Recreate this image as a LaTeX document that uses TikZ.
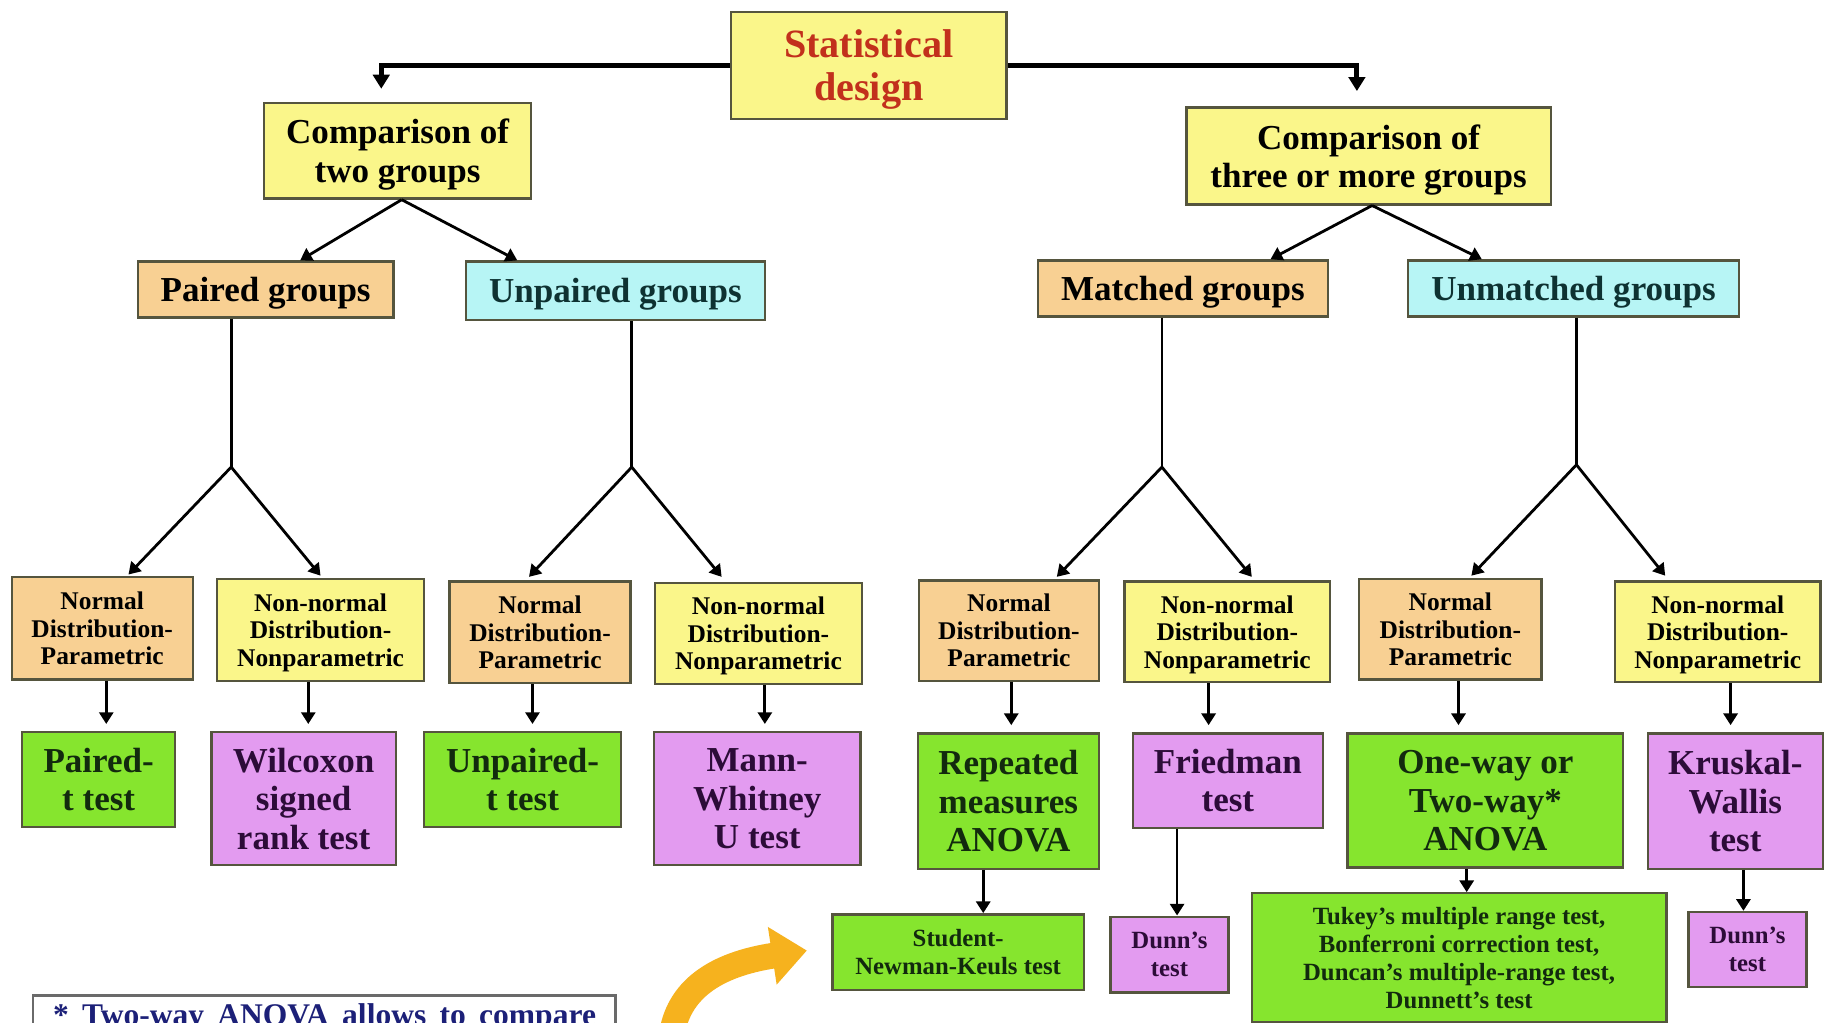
\documentclass[tikz,border=0pt]{standalone}
\usepackage{fontspec}
\setmainfont{Liberation Serif}
\usetikzlibrary{arrows.meta,calc}

\definecolor{fillYel}{HTML}{FAF68A}
\definecolor{fillTan}{HTML}{F8D093}
\definecolor{fillCyan}{HTML}{B7F5F5}
\definecolor{fillGreen}{HTML}{86E52E}
\definecolor{fillPurple}{HTML}{E39BF0}
\definecolor{edgeCol}{HTML}{55553E}
\definecolor{titleRed}{HTML}{C2301C}
\definecolor{txtGreen}{HTML}{122A0E}
\definecolor{txtPurple}{HTML}{2C0C38}
\definecolor{txtTeal}{HTML}{0E3232}
\definecolor{noteBlue}{HTML}{1C2078}
\definecolor{noteEdge}{HTML}{6A6A6A}
\definecolor{gold}{HTML}{F6B21E}

\tikzset{
  box/.style={draw=edgeCol, line width=1pt, align=center, inner sep=0pt, text depth=0pt},
  sz/.style n args={2}{minimum width=#1*0.5pt, minimum height=#2*0.5pt},
  fTitle/.style={font=\bfseries\fontsize{17.2pt}{18.5pt}\selectfont},
  fBig/.style={font=\bfseries\fontsize{15pt}{16.4pt}\selectfont},
  fSmall/.style={font=\bfseries\fontsize{10.9pt}{11.75pt}\selectfont},
  fTiny/.style={font=\bfseries\fontsize{10.6pt}{12pt}\selectfont},
  yelbox/.style={box, fill=fillYel},
  tanbox/.style={box, fill=fillTan},
  cyanbox/.style={box, fill=fillCyan, text=txtTeal},
  greenbox/.style={box, fill=fillGreen, text=txtGreen},
  purplebox/.style={box, fill=fillPurple, text=txtPurple},
  normbox/.style={tanbox, fSmall},
  nonnormbox/.style={yelbox, fSmall},
  arr/.style={draw=black, line width=1.2pt, -{Triangle[width=6pt,length=5pt]}},
  link/.style={draw=black, line width=1.2pt},
  rootarr/.style={draw=black, line width=2.2pt, -{Triangle[width=7pt,length=6pt]}}
}

\begin{document}
\begin{tikzpicture}[x=0.5pt,y=-0.5pt]
\useasboundingbox (0,0) rectangle (1568,876);
\clip (0,0) rectangle (1568,876);
\fill[white] (0,0) rectangle (1568,876);

% ---- top level ----
\node[yelbox, fTitle, text=titleRed, sz={236}{92}] (root) at (744,56) {Statistical\\design};
\node[yelbox, fBig, sz={229}{82}] (c2) at (340.5,129) {Comparison of\\two groups};
\node[yelbox, fBig, sz={312}{83}] (c3) at (1172,133.5) {Comparison of\\three or more groups};

\draw[rootarr] (root.west) -| ($(c2.north)+(-14,-11)$);
\draw[rootarr] (root.east) -| ($(c3.north)+(-10,-13)$);

% ---- group type ----
\node[tanbox, fBig, sz={219}{48}] (pg) at (227.5,248) {Paired groups};
\node[cyanbox, fBig, sz={256}{50}] (ug) at (527,249) {Unpaired groups};
\node[tanbox, fBig, sz={248}{48}] (mg) at (1013,247) {Matched groups};
\node[cyanbox, fBig, sz={283}{48}] (umg) at (1347.5,247) {Unmatched groups};

\draw[arr] ($(c2.south)+(3.5,0)$) -- ($(pg.north)+(29.5,0)$);
\draw[arr] ($(c2.south)+(3.5,0)$) -- ($(ug.north)+(-84,0)$);
\draw[arr] ($(c3.south)+(3,0)$) -- ($(mg.north)+(75,0)$);
\draw[arr] ($(c3.south)+(3,0)$) -- ($(umg.north)+(-78.5,0)$);

% ---- distribution ----
\node[normbox, sz={155}{88}] (n1) at (87.5,538) {Normal\\Distribution-\\Parametric};
\node[nonnormbox, sz={177}{87}] (n2) at (274.5,539.5) {Non-normal\\Distribution-\\Nonparametric};
\node[normbox, sz={155}{87}] (n3) at (462.5,541.5) {Normal\\Distribution-\\Parametric};
\node[nonnormbox, sz={177}{87}] (n4) at (649.5,542.5) {Non-normal\\Distribution-\\Nonparametric};
\node[normbox, sz={154}{86}] (n5) at (864,540) {Normal\\Distribution-\\Parametric};
\node[nonnormbox, sz={176}{86}] (n6) at (1051,541) {Non-normal\\Distribution-\\Nonparametric};
\node[normbox, sz={156}{86}] (n7) at (1242,539) {Normal\\Distribution-\\Parametric};
\node[nonnormbox, sz={176}{86}] (n8) at (1471,541) {Non-normal\\Distribution-\\Nonparametric};

% forks below each group box
\coordinate (fpg) at (198,400);
\coordinate (fug) at (541,400);
\coordinate (fmg) at (995,400);
\coordinate (fumg) at (1350,398);
\draw[link] (fpg |- pg.south) -- (fpg);
\draw[link] (fug |- ug.south) -- (fug);
\draw[link] (fmg |- mg.south) -- (fmg);
\draw[link] (fumg |- umg.south) -- (fumg);
\draw[arr] (fpg) -- ($(n1.north)+(22.5,-1)$);
\draw[arr] (fpg) -- ($(n2.north)+(0,-2)$);
\draw[arr] (fug) -- ($(n3.north)+(-9.5,-3)$);
\draw[arr] (fug) -- ($(n4.north)+(-31.5,-4)$);
\draw[arr] (fmg) -- ($(n5.north)+(41,-2)$);
\draw[arr] (fmg) -- ($(n6.north)+(21,-3)$);
\draw[arr] (fumg) -- ($(n7.north)+(18,-2)$);
\draw[arr] (fumg) -- ($(n8.north)+(-45,-4)$);

% ---- tests ----
\node[greenbox, fBig, sz={131}{81}] (t1) at (84.5,667.5) {Paired-\\t test};
\node[purplebox, fBig, sz={158}{114}] (t2) at (260,684) {Wilcoxon\\signed\\rank test};
\node[greenbox, fBig, sz={169}{81}] (t3) at (447.5,667.5) {Unpaired-\\t test};
\node[purplebox, fBig, sz={177}{114}] (t4) at (648.5,684) {Mann-\\Whitney\\U test};
\node[greenbox, fBig, sz={155}{116}] (t5) at (863.5,686) {Repeated\\measures\\ANOVA};
\node[purplebox, fBig, sz={163}{81}] (t6) at (1051.5,668.5) {Friedman\\test};
\node[greenbox, fBig, sz={236}{115}] (t7) at (1272,685.5) {One-way or\\Two-way*\\ANOVA};
\node[purplebox, fBig, sz={150}{116}] (t8) at (1486,686) {Kruskal-\\Wallis\\test};

\coordinate (v1) at (91,0);
\coordinate (v2) at (264,0);
\coordinate (v3) at (456,0);
\coordinate (v4) at (655,0);
\coordinate (v5) at (866,0);
\coordinate (v6) at (1035,0);
\coordinate (v7) at (1249,0);
\coordinate (v8) at (1482,0);
\draw[arr, shorten >=3pt] (v1 |- n1.south) -- (v1 |- t1.north);
\draw[arr, shorten >=3pt] (v2 |- n2.south) -- (v2 |- t2.north);
\draw[arr, shorten >=3pt] (v3 |- n3.south) -- (v3 |- t3.north);
\draw[arr, shorten >=3pt] (v4 |- n4.south) -- (v4 |- t4.north);
\draw[arr, shorten >=3pt] (v5 |- n5.south) -- (v5 |- t5.north);
\draw[arr, shorten >=3pt] (v6 |- n6.south) -- (v6 |- t6.north);
\draw[arr, shorten >=3pt] (v7 |- n7.south) -- (v7 |- t7.north);
\draw[arr, shorten >=3pt] (v8 |- n8.south) -- (v8 |- t8.north);

% ---- post hoc tests ----
\node[greenbox, fTiny, sz={215}{65}] (s1) at (820.5,815.5) {Student-\\Newman-Keuls test};
\node[purplebox, fTiny, sz={101}{65}] (s2) at (1001.5,817.5) {Dunn's\\test};
\node[greenbox, fTiny, sz={355}{110}] (s3) at (1249.5,820) {Tukey's multiple range test,\\Bonferroni correction test,\\Duncan's multiple-range test,\\Dunnett's test};
\node[purplebox, fTiny, sz={101}{64}] (s4) at (1496.5,813) {Dunn's\\test};

\coordinate (w1) at (842,0);
\coordinate (w2) at (1008,0);
\coordinate (w3) at (1256,0);
\coordinate (w4) at (1493,0);
\draw[arr] (w1 |- t5.south) -- (w1 |- s1.north);
\draw[arr] (w2 |- t6.south) -- (w2 |- s2.north);
\draw[arr] (w3 |- t7.south) -- (w3 |- s3.north);
\draw[arr] (w4 |- t8.south) -- (w4 |- s4.north);

% ---- footnote box and pointer ----
\node[draw=noteEdge, line width=1.2pt, fill=white, sz={499}{80}, anchor=north west, inner sep=0pt] (note) at (27,851) {};
\node[anchor=base west, inner sep=0pt, text=noteBlue, font=\bfseries\fontsize{13.5pt}{15pt}\selectfont] (notetext) at ($(note.north west)+(18,27)$)
  {\makebox[232.5pt][s]{* Two-way ANOVA allows to compare}};

\coordinate (curveStart) at (575,888);
\coordinate (curveEnd) at (691,814);
\draw[gold, line width=11pt, -{Triangle[width=24pt,length=15pt]}]
  (curveStart) .. controls (580,848) and (612,826) .. (curveEnd);
\end{tikzpicture}
\end{document}
